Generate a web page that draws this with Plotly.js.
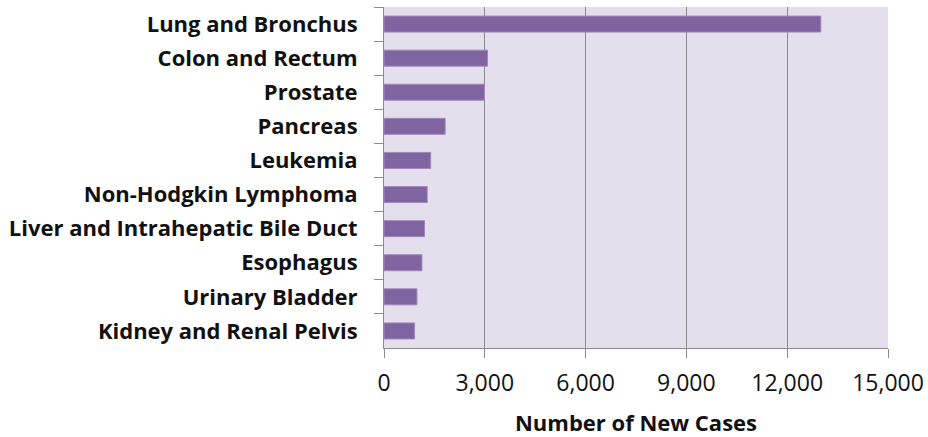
<!DOCTYPE html>
<html>
<head>
<meta charset="utf-8">
<script src="https://cdn.plot.ly/plotly-3.0.1.min.js"></script>
<style>html,body{margin:0;padding:0;background:#fff;}#chart{width:928px;height:437px;}</style>
</head>
<body>
<div id="chart"></div>
<script>
const categories = ["Lung and Bronchus","Colon and Rectum","Prostate","Pancreas","Leukemia","Non-Hodgkin Lymphoma","Liver and Intrahepatic Bile Duct","Esophagus","Urinary Bladder","Kidney and Renal Pelvis"];
const newCases = [13000, 3080, 2990, 1820, 1390, 1285, 1205, 1130, 980, 910];
const xTicks = [0, 3000, 6000, 9000, 12000, 15000];
const xTickLabels = ["0","3,000","6,000","9,000","12,000","15,000"];

const trace = {
  type: "bar",
  orientation: "h",
  y: categories,
  x: newCases,
  marker: {color: "#8064A2", line: {color: "#9F8AB9", width: 1}},
  hoverinfo: "x+y"
};

const FONT = "'Open Sans', Lato, sans-serif";
const layout = {
  width: 928, height: 437,
  margin: {l: 384, r: 40, t: 7, b: 89},
  paper_bgcolor: "#ffffff",
  plot_bgcolor: "#E4DFEC",
  bargap: 0.53,
  showlegend: false,
  font: {family: FONT, color: "#000"},
  xaxis: {
    range: [0, 15000],
    tickvals: xTicks,
    ticktext: xTickLabels,
    tickfont: {size: 23, family: FONT, color: "#111"},
    showgrid: true, gridcolor: "#8C8C8C", gridwidth: 1,
    zeroline: false,
    showline: true, linecolor: "#8C8C8C", linewidth: 1,
    ticks: "outside", ticklen: 9, tickcolor: "#8C8C8C",
    ticklabelstandoff: 5,
    title: {text: "<b>Number of New Cases</b>", font: {size: 22, family: FONT, color: "#111"}, standoff: 20},
    fixedrange: true
  },
  yaxis: {
    type: "category",
    autorange: "reversed",
    tickson: "boundaries",
    ticks: "outside", ticklen: 9, tickcolor: "#8C8C8C",
    showline: true, linecolor: "#8C8C8C", linewidth: 1,
    showgrid: false, zeroline: false,
    tickfont: {size: 22, family: FONT, color: "#111", weight: "bold"},
    ticklabelstandoff: 21,
    fixedrange: true
  }
};

Plotly.newPlot("chart", [trace], layout, {displayModeBar: false, staticPlot: true});
</script>
</body>
</html>
